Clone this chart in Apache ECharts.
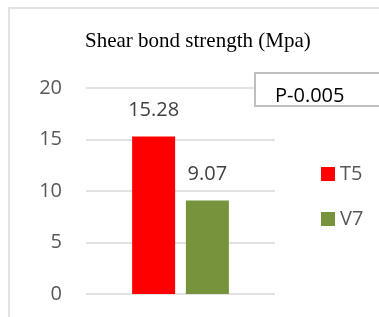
<!DOCTYPE html>
<html>
<head>
<meta charset="utf-8">
<script src="https://cdn.jsdelivr.net/npm/echarts@6/dist/echarts.min.js"></script>
<style>
  html, body { margin: 0; padding: 0; background: #fff; }
  #chart { width: 379px; height: 317px; }
</style>
</head>
<body>
<div id="chart"></div>
<script>
const categories = ['Shear bond strength'];
const seriesNames = ['T5', 'V7'];
const t5Values = [15.28];
const v7Values = [9.07];
const seriesColors = ['#ff0000', '#77933c'];
const yTicks = { min: 0, max: 20, interval: 5 };

const chart = echarts.init(document.getElementById('chart'));

const labelFont = { fontFamily: 'Open Sans', fontSize: 20, color: '#404040' };

const series = [t5Values, v7Values].map((data, i) => ({
  type: 'bar',
  name: seriesNames[i],
  data,
  barWidth: 43,
  barGap: '25%',
  itemStyle: { color: seriesColors[i] },
  label: {
    show: true,
    position: 'top',
    distance: 16,
    ...labelFont,
  },
}));

chart.setOption({
  animation: false,
  grid: { left: 86, right: 104, top: 88, bottom: 23 },
  xAxis: {
    type: 'category',
    data: categories,
    axisLine: { show: false },
    axisTick: { show: false },
    axisLabel: { show: false },
  },
  yAxis: {
    type: 'value',
    min: yTicks.min,
    max: yTicks.max,
    interval: yTicks.interval,
    axisLine: { show: false },
    axisTick: { show: false },
    axisLabel: { margin: 24, fontFamily: 'Open Sans', fontSize: 20, color: '#595959' },
    splitLine: { lineStyle: { color: '#d9d9d9', width: 1.5 } },
  },
  legend: {
    orient: 'vertical',
    left: 316,
    top: 159,
    icon: 'rect',
    itemWidth: 14,
    itemHeight: 14,
    itemGap: 25,
    textStyle: { fontFamily: 'Open Sans', fontSize: 20, color: '#595959', lineHeight: 20 },
  },
  graphic: [
    {
      type: 'rect',
      shape: { x: 9, y: 8, width: 400, height: 330 },
      style: { fill: 'none', stroke: '#d9d9d9', lineWidth: 1.5 },
      z: -10,
    },
    {
      type: 'text',
      left: 85,
      top: 31,
      style: {
        text: 'Shear bond strength (Mpa)',
        fontFamily: 'Liberation Serif',
        fontSize: 21,
        fill: '#000',
      },
    },
    {
      type: 'rect',
      shape: { x: 255, y: 73, width: 140, height: 33 },
      style: { fill: '#fff', stroke: '#bfbfbf', lineWidth: 2 },
      z: 10,
    },
    {
      type: 'text',
      left: 275,
      top: 86,
      style: {
        text: 'P-0.005',
        fontFamily: 'Open Sans',
        fontSize: 20,
        fill: '#000',
      },
      z: 11,
    },
  ],
  series,
});
</script>
</body>
</html>
